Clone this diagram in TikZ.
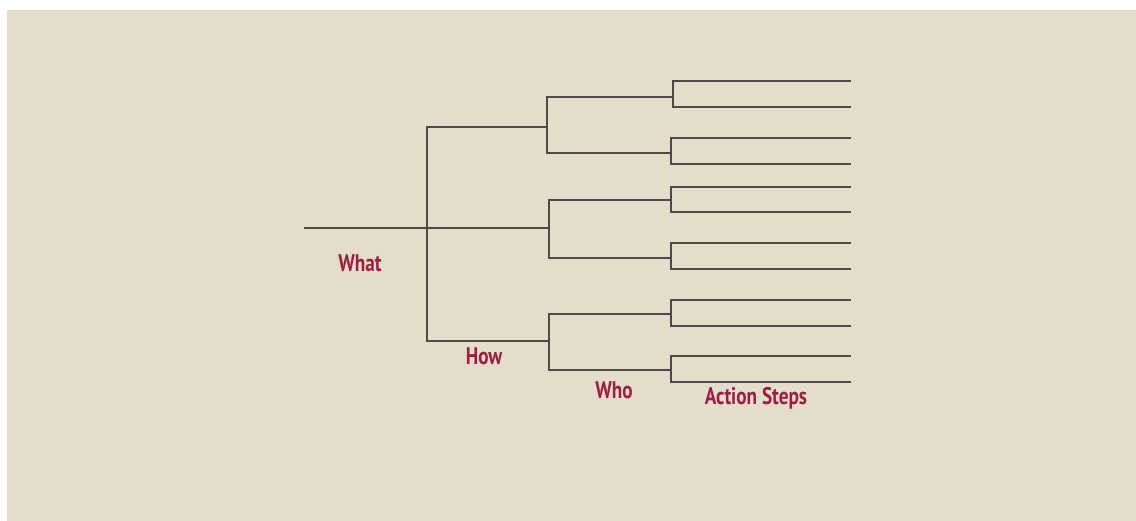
\documentclass[tikz,border=0pt]{standalone}
\usepackage{fontspec}
\setmainfont{PT Sans}[FakeStretch=0.8]
\definecolor{paper}{HTML}{E5DDCB}
\definecolor{branch}{HTML}{4B4A47}
\definecolor{labelred}{HTML}{9A1F40}
\begin{document}
\begin{tikzpicture}[x=1pt,y=-1pt,
  link/.style={draw=branch,line width=2pt,line cap=rect},
  tag/.style={text=labelred,font=\fontsize{24}{28}\selectfont\bfseries,inner sep=0pt}]
\useasboundingbox (0,0) rectangle (1136,521);
\fill[white] (0,0) rectangle (1136,521);
\fill[paper] (7,10) rectangle (1136,521);

% root and first split
\coordinate (r0) at (305,228);
\coordinate (r) at (427,228);
\coordinate (a1) at (427,127);
\coordinate (a3) at (427,341);
\coordinate (b1) at (547,127);
\coordinate (b2) at (549,228);
\coordinate (b3) at (549,341);
\draw[link] (r0) -- (b2);
\draw[link] (a1) -- (a3);
\draw[link] (a1) -- (b1);
\draw[link] (a3) -- (b3);

% second split
\coordinate (b1t) at (547,97);  \coordinate (b1b) at (547,153);
\coordinate (b2t) at (549,200); \coordinate (b2b) at (549,258);
\coordinate (b3t) at (549,314); \coordinate (b3b) at (549,370);
\coordinate (c1) at (673,97);  \coordinate (c2) at (671,153);
\coordinate (c3) at (671,200); \coordinate (c4) at (671,258);
\coordinate (c5) at (671,314); \coordinate (c6) at (671,370);
\draw[link] (c1) -- (b1t) -- (b1b) -- (c2);
\draw[link] (c3) -- (b2t) -- (b2b) -- (c4);
\draw[link] (c5) -- (b3t) -- (b3b) -- (c6);

% third split into action steps
\foreach \i/\x/\ya/\yb in {1/673/81/107, 2/671/138/164, 3/671/187/212,
                           4/671/243/269, 5/671/300/326, 6/671/356/382}{
  \coordinate (k\i a) at (\x,\ya);
  \coordinate (k\i b) at (\x,\yb);
  \coordinate (e\i a) at (850,\ya);
  \coordinate (e\i b) at (850,\yb);
  \draw[link] (e\i a) -- (k\i a) -- (k\i b) -- (e\i b);
}

% level labels
\node[tag] (what) at (360,263) {What};
\node[tag] (how) at (484,356) {How};
\node[tag] (who) at (614,390) {Who};
\node[tag] (steps) at (756,398) {Action Steps};
\end{tikzpicture}
\end{document}
